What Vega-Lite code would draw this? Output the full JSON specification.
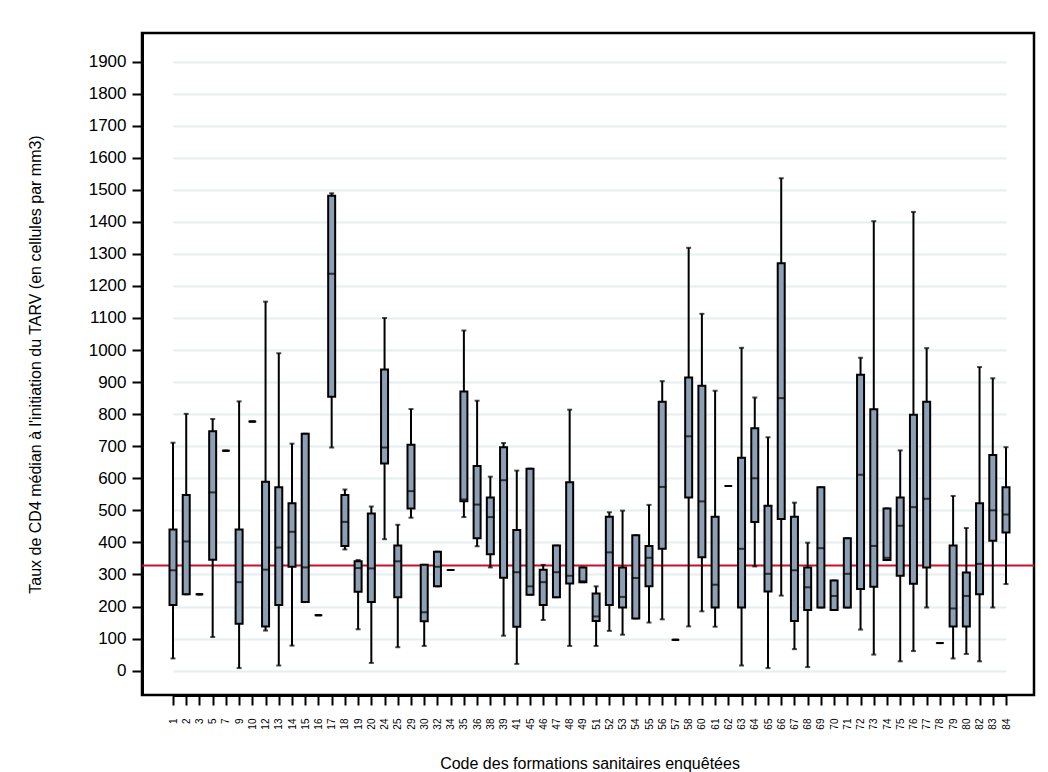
{
  "$schema": "https://vega.github.io/schema/vega-lite/v6.json",
  "width": 892,
  "height": 662,
  "autosize": {"type": "none"},
  "padding": {"left": 142, "top": 33, "right": 14, "bottom": 77},
  "background": "white",
  "config": {
    "font": "Liberation Sans",
    "view": {"stroke": "black", "strokeWidth": 2.5},
    "axis": {
      "titleFontSize": 16,
      "titleFontWeight": "normal",
      "titleColor": "black",
      "labelColor": "black",
      "tickSize": 10,
      "tickWidth": 2,
      "tickColor": "black",
      "domainColor": "black",
      "domainWidth": 3
    },
    "axisX": {
      "titlePadding": 26,
      "labelAngle": -90,
      "labelFontSize": 10,
      "labelPadding": 13,
      "grid": false
    },
    "axisY": {
      "titlePadding": 45,
      "labelFontSize": 17,
      "labelPadding": 6,
      "labelOverlap": false,
      "grid": true,
      "gridColor": "#e6eef0",
      "gridWidth": 2
    }
  },
  "datasets": {
    "cd4": [
      {"code": "1", "lo": 38, "q1": 205, "med": 313, "q3": 440, "hi": 711},
      {"code": "2", "lo": 238, "q1": 238, "med": 403, "q3": 548, "hi": 801},
      {"code": "3", "lo": 238, "q1": 238, "med": 238, "q3": 238, "hi": 238},
      {"code": "5", "lo": 105, "q1": 346, "med": 556, "q3": 747, "hi": 785},
      {"code": "7", "lo": 686, "q1": 686, "med": 686, "q3": 686, "hi": 686},
      {"code": "9", "lo": 8, "q1": 146, "med": 276, "q3": 440, "hi": 840},
      {"code": "10", "lo": 777, "q1": 777, "med": 777, "q3": 777, "hi": 777},
      {"code": "12", "lo": 125, "q1": 138, "med": 315, "q3": 589, "hi": 1151},
      {"code": "13", "lo": 16, "q1": 205, "med": 384, "q3": 572, "hi": 990},
      {"code": "14", "lo": 78, "q1": 324, "med": 433, "q3": 522, "hi": 708},
      {"code": "15", "lo": 214, "q1": 214, "med": 322, "q3": 739, "hi": 739},
      {"code": "16", "lo": 173, "q1": 173, "med": 173, "q3": 173, "hi": 173},
      {"code": "17", "lo": 696, "q1": 854, "med": 1238, "q3": 1481, "hi": 1489},
      {"code": "18", "lo": 378, "q1": 389, "med": 464, "q3": 548, "hi": 565},
      {"code": "19", "lo": 129, "q1": 246, "med": 320, "q3": 341, "hi": 345},
      {"code": "20", "lo": 24, "q1": 214, "med": 319, "q3": 490, "hi": 512},
      {"code": "24", "lo": 410, "q1": 646, "med": 696, "q3": 939, "hi": 1100},
      {"code": "25", "lo": 73, "q1": 229, "med": 341, "q3": 390, "hi": 455},
      {"code": "29", "lo": 477, "q1": 506, "med": 560, "q3": 705, "hi": 816},
      {"code": "30", "lo": 77, "q1": 154, "med": 182, "q3": 330, "hi": 330},
      {"code": "32", "lo": 263, "q1": 263, "med": 324, "q3": 371, "hi": 371},
      {"code": "34", "lo": 314, "q1": 314, "med": 314, "q3": 314, "hi": 314},
      {"code": "35", "lo": 479, "q1": 528, "med": 534, "q3": 871, "hi": 1061},
      {"code": "36", "lo": 388, "q1": 413, "med": 518, "q3": 638, "hi": 842},
      {"code": "38", "lo": 322, "q1": 363, "med": 479, "q3": 540, "hi": 605},
      {"code": "39", "lo": 109, "q1": 290, "med": 594, "q3": 697, "hi": 710},
      {"code": "41", "lo": 21, "q1": 137, "med": 307, "q3": 439, "hi": 624},
      {"code": "45", "lo": 237, "q1": 237, "med": 263, "q3": 630, "hi": 630},
      {"code": "46", "lo": 158, "q1": 205, "med": 276, "q3": 315, "hi": 330},
      {"code": "47", "lo": 229, "q1": 229, "med": 307, "q3": 390, "hi": 390},
      {"code": "48", "lo": 77, "q1": 272, "med": 296, "q3": 588, "hi": 814},
      {"code": "49", "lo": 276, "q1": 276, "med": 279, "q3": 322, "hi": 322},
      {"code": "51", "lo": 77, "q1": 155, "med": 169, "q3": 241, "hi": 263},
      {"code": "52", "lo": 124, "q1": 205, "med": 369, "q3": 480, "hi": 494},
      {"code": "53", "lo": 112, "q1": 197, "med": 230, "q3": 322, "hi": 499},
      {"code": "54", "lo": 163, "q1": 163, "med": 289, "q3": 422, "hi": 422},
      {"code": "55", "lo": 150, "q1": 263, "med": 352, "q3": 389, "hi": 517},
      {"code": "56", "lo": 160, "q1": 380, "med": 573, "q3": 839, "hi": 903},
      {"code": "57", "lo": 96, "q1": 96, "med": 96, "q3": 96, "hi": 96},
      {"code": "58", "lo": 138, "q1": 540, "med": 731, "q3": 914, "hi": 1319},
      {"code": "60", "lo": 185, "q1": 354, "med": 528, "q3": 889, "hi": 1113},
      {"code": "61", "lo": 137, "q1": 197, "med": 268, "q3": 480, "hi": 873},
      {"code": "62", "lo": 576, "q1": 576, "med": 576, "q3": 576, "hi": 576},
      {"code": "63", "lo": 16, "q1": 197, "med": 380, "q3": 664, "hi": 1007},
      {"code": "64", "lo": 325, "q1": 464, "med": 600, "q3": 756, "hi": 852},
      {"code": "65", "lo": 8, "q1": 247, "med": 302, "q3": 514, "hi": 728},
      {"code": "66", "lo": 234, "q1": 473, "med": 850, "q3": 1271, "hi": 1536},
      {"code": "67", "lo": 67, "q1": 155, "med": 313, "q3": 480, "hi": 524},
      {"code": "68", "lo": 11, "q1": 189, "med": 260, "q3": 322, "hi": 399},
      {"code": "69", "lo": 197, "q1": 197, "med": 382, "q3": 572, "hi": 572},
      {"code": "70", "lo": 189, "q1": 189, "med": 233, "q3": 281, "hi": 281},
      {"code": "71", "lo": 197, "q1": 197, "med": 302, "q3": 413, "hi": 413},
      {"code": "72", "lo": 128, "q1": 255, "med": 611, "q3": 923, "hi": 976},
      {"code": "73", "lo": 50, "q1": 262, "med": 389, "q3": 815, "hi": 1402},
      {"code": "74", "lo": 345, "q1": 345, "med": 352, "q3": 506, "hi": 506},
      {"code": "75", "lo": 29, "q1": 296, "med": 452, "q3": 540, "hi": 687},
      {"code": "76", "lo": 61, "q1": 271, "med": 510, "q3": 798, "hi": 1431},
      {"code": "77", "lo": 197, "q1": 322, "med": 536, "q3": 839, "hi": 1006},
      {"code": "78", "lo": 86, "q1": 86, "med": 86, "q3": 86, "hi": 86},
      {"code": "79", "lo": 38, "q1": 138, "med": 194, "q3": 390, "hi": 545},
      {"code": "80", "lo": 52, "q1": 138, "med": 233, "q3": 306, "hi": 445},
      {"code": "82", "lo": 29, "q1": 238, "med": 333, "q3": 522, "hi": 947},
      {"code": "83", "lo": 197, "q1": 405, "med": 500, "q3": 673, "hi": 912},
      {"code": "84", "lo": 270, "q1": 431, "med": 487, "q3": 572, "hi": 697}
    ],
    "reference": [{"level": 328}]
  },
  "data": {"name": "cd4"},
  "encoding": {
    "x": {
      "field": "code",
      "type": "nominal",
      "sort": null,
      "scale": {"type": "point", "padding": 0, "range": [31, 864]},
      "axis": {"title": "Code des formations sanitaires enquêtées"}
    }
  },
  "layer": [
    {
      "data": {"name": "reference"},
      "mark": {"type": "rule", "color": "#c8102e", "strokeWidth": 2},
      "encoding": {
        "x": null,
        "y": {
          "field": "level",
          "type": "quantitative",
          "scale": {"domain": [-76, 1989], "nice": false, "zero": false},
          "axis": {
            "title": "Taux de CD4 médian à l'initiation du TARV (en cellules par mm3)",
            "values": [0, 100, 200, 300, 400, 500, 600, 700, 800, 900, 1000, 1100, 1200, 1300, 1400, 1500, 1600, 1700, 1800, 1900],
            "format": "d"
          }
        }
      }
    },
    {
      "mark": {"type": "rule", "color": "black", "strokeWidth": 2},
      "encoding": {
        "y": {
          "field": "lo",
          "type": "quantitative",
          "axis": {
            "title": "Taux de CD4 médian à l'initiation du TARV (en cellules par mm3)",
            "values": [0, 100, 200, 300, 400, 500, 600, 700, 800, 900, 1000, 1100, 1200, 1300, 1400, 1500, 1600, 1700, 1800, 1900],
            "format": "d"
          }
        },
        "y2": {"field": "hi"}
      }
    },
    {
      "mark": {"type": "tick", "color": "black", "size": 5, "thickness": 2},
      "encoding": {
        "y": {
          "field": "lo",
          "type": "quantitative",
          "axis": {
            "title": "Taux de CD4 médian à l'initiation du TARV (en cellules par mm3)",
            "values": [0, 100, 200, 300, 400, 500, 600, 700, 800, 900, 1000, 1100, 1200, 1300, 1400, 1500, 1600, 1700, 1800, 1900],
            "format": "d"
          }
        }
      }
    },
    {
      "mark": {"type": "tick", "color": "black", "size": 5, "thickness": 2},
      "encoding": {
        "y": {
          "field": "hi",
          "type": "quantitative",
          "axis": {
            "title": "Taux de CD4 médian à l'initiation du TARV (en cellules par mm3)",
            "values": [0, 100, 200, 300, 400, 500, 600, 700, 800, 900, 1000, 1100, 1200, 1300, 1400, 1500, 1600, 1700, 1800, 1900],
            "format": "d"
          }
        }
      }
    },
    {
      "mark": {"type": "bar", "size": 7, "fill": "#8c9fb4", "stroke": "black", "strokeWidth": 2},
      "encoding": {
        "y": {
          "field": "q1",
          "type": "quantitative",
          "axis": {
            "title": "Taux de CD4 médian à l'initiation du TARV (en cellules par mm3)",
            "values": [0, 100, 200, 300, 400, 500, 600, 700, 800, 900, 1000, 1100, 1200, 1300, 1400, 1500, 1600, 1700, 1800, 1900],
            "format": "d"
          }
        },
        "y2": {"field": "q3"}
      }
    },
    {
      "mark": {"type": "tick", "color": "black", "size": 8, "thickness": 2},
      "encoding": {
        "y": {
          "field": "med",
          "type": "quantitative",
          "axis": {
            "title": "Taux de CD4 médian à l'initiation du TARV (en cellules par mm3)",
            "values": [0, 100, 200, 300, 400, 500, 600, 700, 800, 900, 1000, 1100, 1200, 1300, 1400, 1500, 1600, 1700, 1800, 1900],
            "format": "d"
          }
        }
      }
    }
  ]
}
